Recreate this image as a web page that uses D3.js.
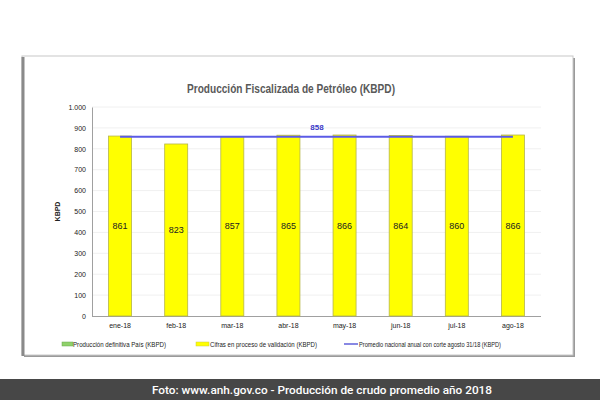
<!DOCTYPE html>
<html><head><meta charset="utf-8">
<script src="https://cdn.jsdelivr.net/npm/d3@7"></script>
<style>body{margin:0;background:#fff}svg{display:block}</style>
</head><body>
<script>
const categories = ["ene-18","feb-18","mar-18","abr-18","may-18","jun-18","jul-18","ago-18"];
const values = [861, 823, 857, 865, 866, 864, 860, 866];
const averageValue = 858;
const yTicks = [0,100,200,300,400,500,600,700,800,900,1000];
const yTickLabels = ["0","100","200","300","400","500","600","700","800","900","1.000"];
const titleText = "Producción Fiscalizada de Petróleo (KBPD)";
const legendLabels = ["Producción definitiva País (KBPD)","Cifras en proceso de validación (KBPD)","Promedio nacional anual con corte agosto 31/18 (KBPD)"];
const caption = "Foto: www.anh.gov.co - Producción de crudo promedio año 2018";

(function(){
const W = 600, H = 400;
const svg = d3.select("body").append("svg").attr("width", W).attr("height", H);
svg.append("rect").attr("width", W).attr("height", H).attr("fill", "#fff");

// frame with shadow
svg.append("rect").attr("x", 24).attr("y", 58).attr("width", 551).attr("height", 299).attr("fill", "#9a9a9a");
svg.append("rect").attr("x", 22).attr("y", 56).attr("width", 551).attr("height", 299).attr("fill", "#fff").attr("stroke", "#c8c8c8").attr("stroke-width", 1);
svg.append("line").attr("x1", 23).attr("x2", 23).attr("y1", 57).attr("y2", 356).attr("stroke", "#8a8a8a").attr("stroke-width", 3);

const font = "'Liberation Sans Narrow','Liberation Sans',Arial,sans-serif";

svg.append("text").attr("x", 291).attr("y", 93).attr("text-anchor", "middle")
  .attr("font-family", font).attr("font-size", 12).attr("font-weight", "bold").attr("fill", "#595959")
  .attr("textLength", 208).attr("lengthAdjust", "spacingAndGlyphs").text(titleText);

const pl = 92, pr = 541, pt = 107, pb = 316;
const x = d3.scaleBand().domain(categories).range([pl, pr]).paddingInner(0.59).paddingOuter(0.295);
const y = d3.scaleLinear().domain([0, 1000]).range([pb, pt]);

// grid
svg.append("g").selectAll("line").data(yTicks.slice(1)).join("line")
  .attr("x1", pl).attr("x2", pr).attr("y1", d => y(d)).attr("y2", d => y(d))
  .attr("stroke", "#f0f0f0").attr("stroke-width", 1);

// y axis
const yAxis = d3.axisLeft(y).tickValues(yTicks).tickFormat((d,i) => yTickLabels[i]).tickSize(0).tickPadding(6);
const gy = svg.append("g").attr("transform", `translate(${pl},0)`).call(yAxis);
gy.select(".domain").attr("stroke", "#a0a0a0");
gy.selectAll("text").attr("font-family", font).attr("font-size", 7).attr("fill", "#222");

// x axis
const xAxis = d3.axisBottom(x).tickSize(0).tickPadding(7);
const gx = svg.append("g").attr("transform", `translate(0,${pb})`).call(xAxis);
gx.select(".domain").attr("stroke", "#a0a0a0").attr("d", `M${pl},0.5H${pr}`);
gx.selectAll("text").attr("font-family", font).attr("font-size", 7).attr("fill", "#222");

svg.append("text").attr("transform", `translate(60,${(pt+pb)/2}) rotate(-90)`).attr("text-anchor", "middle")
  .attr("font-family", font).attr("font-size", 7).attr("font-weight", "bold").attr("fill", "#222").text("KBPD");

// bars
svg.append("g").selectAll("rect").data(values).join("rect")
  .attr("x", (d,i) => x(categories[i])).attr("width", x.bandwidth())
  .attr("y", d => y(d)).attr("height", d => y(0) - y(d))
  .attr("fill", "#ffff00").attr("stroke", "#b5b54a").attr("stroke-width", 0.8);

svg.append("g").selectAll("text").data(values).join("text")
  .attr("x", (d,i) => x(categories[i]) + x.bandwidth()/2).attr("y", d => (y(d)+y(0))/2 + 3)
  .attr("text-anchor", "middle").attr("font-family", font).attr("font-size", 9).attr("fill", "#222").text(d => d);

// average line
const cx0 = x(categories[0]) + x.bandwidth()/2, cx1 = x(categories[categories.length-1]) + x.bandwidth()/2;
svg.append("line").attr("x1", cx0).attr("x2", cx1).attr("y1", y(averageValue)).attr("y2", y(averageValue))
  .attr("stroke", "#5b5be6").attr("stroke-width", 2);
svg.append("text").attr("x", 317).attr("y", y(averageValue) - 7).attr("text-anchor", "middle")
  .attr("font-family", font).attr("font-size", 8).attr("font-weight", "bold").attr("fill", "#3a3ac8").text(averageValue);

// legend
const ly = 344;
const lg = svg.append("g");
lg.append("rect").attr("x", 62).attr("y", ly-2).attr("width", 11).attr("height", 4).attr("fill", "#8fd16a").attr("stroke", "#6aa84f").attr("stroke-width", 0.5);
lg.append("text").attr("x", 73).attr("y", ly+2.5).attr("font-family", font).attr("font-size", 7).attr("fill", "#222")
  .attr("textLength", 93).attr("lengthAdjust", "spacingAndGlyphs").text(legendLabels[0]);
lg.append("rect").attr("x", 196).attr("y", ly-2).attr("width", 13).attr("height", 4).attr("fill", "#ffff00").attr("stroke", "#c8c84a").attr("stroke-width", 0.5);
lg.append("text").attr("x", 210).attr("y", ly+2.5).attr("font-family", font).attr("font-size", 7).attr("fill", "#222")
  .attr("textLength", 107).attr("lengthAdjust", "spacingAndGlyphs").text(legendLabels[1]);
lg.append("line").attr("x1", 344).attr("x2", 358).attr("y1", ly).attr("y2", ly).attr("stroke", "#3a3ad0").attr("stroke-width", 1.2);
lg.append("text").attr("x", 359).attr("y", ly+2.5).attr("font-family", font).attr("font-size", 7).attr("fill", "#222")
  .attr("textLength", 142).attr("lengthAdjust", "spacingAndGlyphs").text(legendLabels[2]);

// caption banner
svg.append("rect").attr("x", 0).attr("y", 379).attr("width", W).attr("height", 21).attr("fill", "#474747");
svg.append("text").attr("x", 322).attr("y", 394).attr("text-anchor", "middle")
  .attr("font-family", "Roboto, 'Open Sans', sans-serif").attr("font-size", 11.5).attr("font-weight", 500).attr("fill", "#fff")
  .attr("textLength", 340).attr("lengthAdjust", "spacingAndGlyphs").text(caption);
})();
</script>
</body></html>
